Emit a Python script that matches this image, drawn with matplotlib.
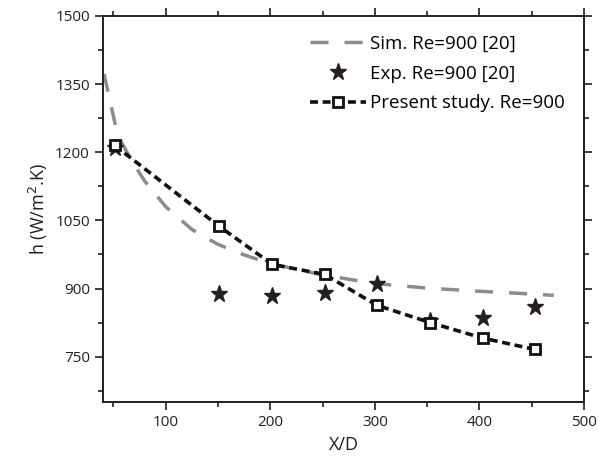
import matplotlib.pyplot as plt
import numpy as np

plt.rcParams['font.family'] = ['Open Sans', 'DejaVu Sans']

# Sim. Re=900 [20]
x_sim = [41, 47, 52, 58, 70, 80, 100, 125, 150, 175, 200, 250, 300, 350, 400, 450, 471]
h_sim = [1372, 1310, 1258, 1220, 1172, 1136, 1080, 1030, 997, 974, 955, 930, 911, 901, 894, 888, 885]

# Exp. Re=900 [20]
x_exp = [51, 151, 202, 252, 302, 353, 403, 453]
h_exp = [1210, 889, 884, 891, 909, 828, 836, 860]

# Present study
x_pre = [51, 151, 202, 252, 302, 353, 403, 453]
h_pre = [1215, 1037, 953, 931, 863, 825, 791, 766]

fig = plt.figure(figsize=(5.99, 4.66), dpi=100)
ax = fig.add_axes([0.172, 0.137, 0.803, 0.829])

ax.plot(x_sim, h_sim, color='#8c8c8c', lw=2.5, dashes=(5.2, 4.6),
        label='Sim. Re=900 [20]')
ax.plot(x_exp, h_exp, ls='none', marker='*', ms=12.5, color='#231f20',
        label='Exp. Re=900 [20]')
ax.plot(x_pre, h_pre, color='#111111', lw=2.6, dashes=(2.2, 1.3),
        marker='s', ms=7, mfc='white', mec='#111111', mew=2,
        label='Present study. Re=900')

ax.set_xlim(40, 500)
ax.set_ylim(650, 1500)
ax.set_xticks([100, 200, 300, 400, 500])
ax.set_xticks(np.arange(50, 500, 100), minor=True)
ax.set_yticks([750, 900, 1050, 1200, 1350, 1500])
ax.set_yticks(np.arange(675, 1500, 150), minor=True)

for s in ax.spines.values():
    s.set_linewidth(1.4)
    s.set_color('#231f20')
ax.tick_params(which='both', direction='out', top=True, right=True,
               color='#231f20', width=1.2, labelsize=11, colors='#231f20')
ax.tick_params(which='major', length=6)
ax.tick_params(which='minor', length=3.5)

ax.set_xlabel('X/D', fontsize=13, color='#231f20')
ax.set_ylabel('h (W/m$^2$.K)', fontsize=13, color='#231f20')

ax.legend(loc='upper left', bbox_to_anchor=(0.415, 0.97), frameon=False,
          fontsize=13.5, handlelength=3.0, handletextpad=0.2,
          labelspacing=0.62, borderaxespad=0)

fig.savefig('out.png', dpi=100)
